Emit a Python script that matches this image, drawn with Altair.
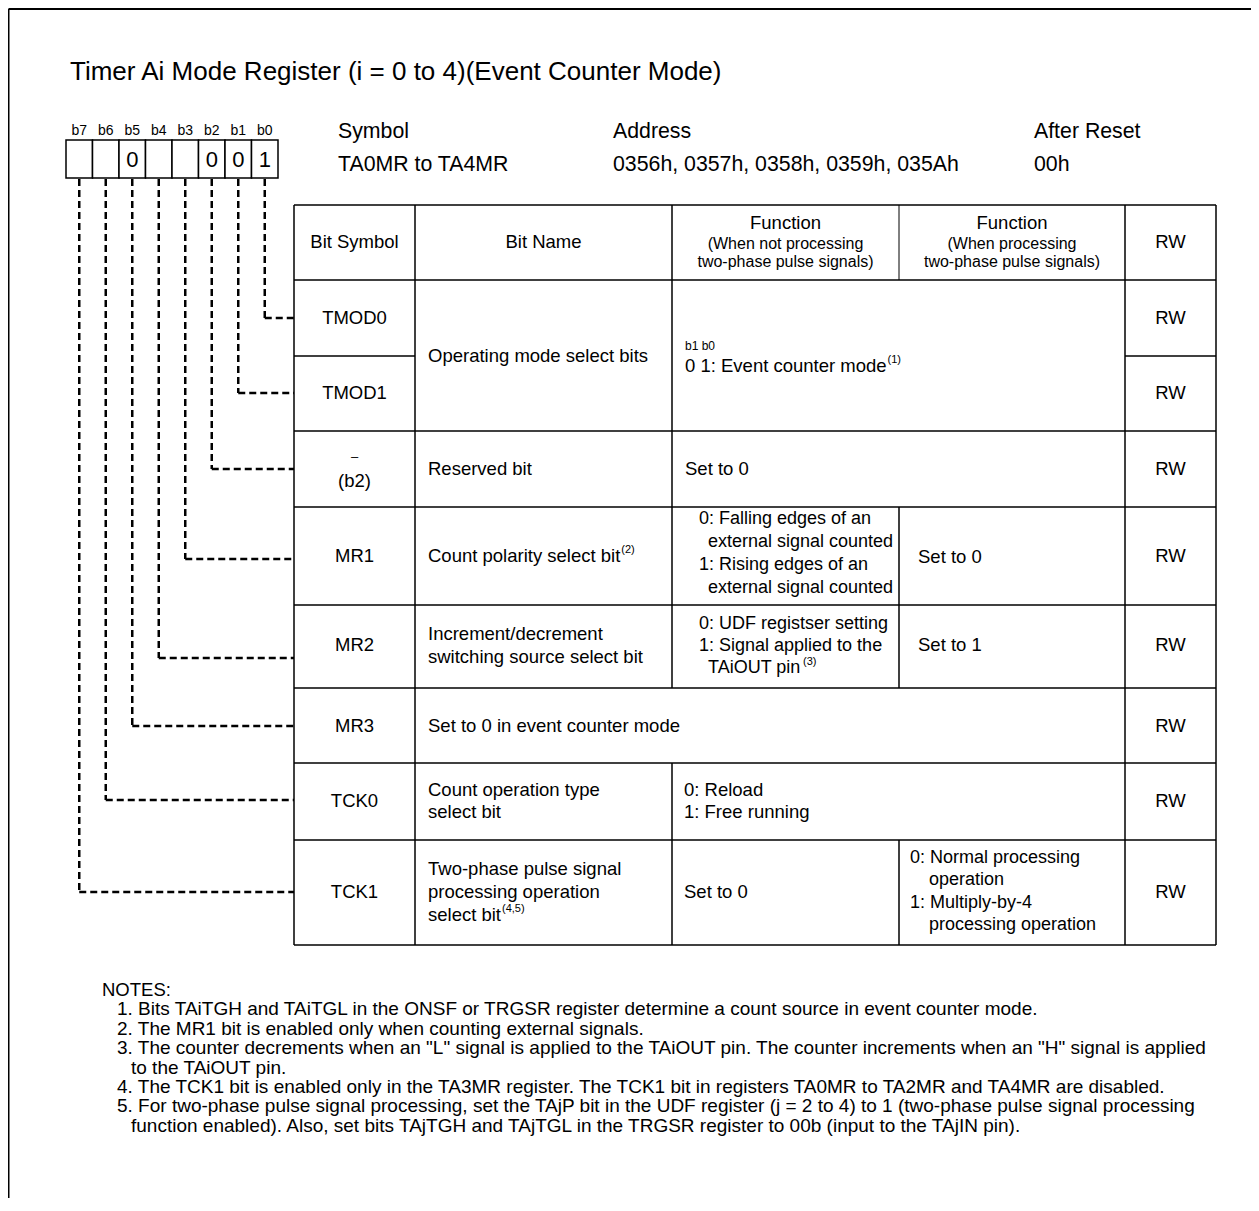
import altair as alt
import pandas as pd

# ---------------- content ----------------
TITLE = "Timer Ai Mode Register (i = 0 to 4)(Event Counter Mode)"
BIT_LABELS = ["b7", "b6", "b5", "b4", "b3", "b2", "b1", "b0"]
BIT_VALUES = ["", "", "0", "", "", "0", "0", "1"]
INFO_HEADS = ["Symbol", "Address", "After Reset"]
INFO_VALUES = ["TA0MR to TA4MR", "0356h, 0357h, 0358h, 0359h, 035Ah", "00h"]
COL_HEADS = ["Bit Symbol", "Bit Name", "Function", "Function", "RW"]
FUNC_SUBHEADS = [["(When not processing", "two-phase pulse signals)"],
                 ["(When processing", "two-phase pulse signals)"]]
BIT_SYMBOLS = ["TMOD0", "TMOD1", "(b2)", "MR1", "MR2", "MR3", "TCK0", "TCK1"]
RW = ["RW"] * 8
BIT_NAMES = {
    "op": ["Operating mode select bits"],
    "b2": ["Reserved bit"],
    "MR1": ["Count polarity select bit"],
    "MR2": ["Increment/decrement", "switching source select bit"],
    "MR3": ["Set to 0 in event counter mode"],
    "TCK0": ["Count operation type", "select bit"],
    "TCK1": ["Two-phase pulse signal", "processing operation", "select bit"],
}
FUNC_TMOD = ["b1 b0", "0 1: Event counter mode"]
FUNC_B2 = ["Set to 0"]
FUNC_MR1 = [["0: Falling edges of an", "external signal counted",
             "1: Rising edges of an", "external signal counted"], ["Set to 0"]]
FUNC_MR2 = [["0: UDF registser setting", "1: Signal applied to the", "TAiOUT pin"], ["Set to 1"]]
FUNC_TCK0 = ["0: Reload", "1: Free running"]
FUNC_TCK1 = [["Set to 0"], ["0: Normal processing", "operation",
                            "1: Multiply-by-4", "processing operation"]]
SUPS = {"op": "(1)", "MR1": "(2)", "MR2": "(3)", "TCK1": "(4,5)"}
NOTES = [
    ("h", "NOTES:"),
    ("n", "1. Bits TAiTGH and TAiTGL in the ONSF or TRGSR register determine a count source in event counter mode."),
    ("n", "2. The MR1 bit is enabled only when counting external signals."),
    ("n", "3. The counter decrements when an \"L\" signal is applied to the TAiOUT pin. The counter increments when an \"H\" signal is applied"),
    ("c", "to the TAiOUT pin."),
    ("n", "4. The TCK1 bit is enabled only in the TA3MR register. The TCK1 bit in registers TA0MR to TA2MR and TA4MR are disabled."),
    ("n", "5. For two-phase pulse signal processing, set the TAjP bit in the UDF register (j = 2 to 4) to 1 (two-phase pulse signal processing"),
    ("c", "function enabled). Also, set bits TAjTGH and TAjTGL in the TRGSR register to 00b (input to the TAjIN pin)."),
]

# ---------------- layout (page pixels) ----------------
W, H = 1243, 1190
COL_X = [294, 415, 672, 899, 1125, 1216]
ROW_Y = [205, 280, 356, 431, 507, 605, 688, 763, 840, 945]
LEADER_Y = [318, 393, 469, 559, 658, 726, 800, 892]   # b0 .. b7
REG_X0, REG_CELL, REG_Y0, REG_Y1 = 66, 26.5, 140, 178
F_TAB, F_FN, F_SMALL, F_HEAD, F_TITLE, F_NOTE, F_SUP = 18.5, 18, 16, 21.3, 26, 19, 11

# Helvetica/Arial advance widths (per 1000 em) for superscript placement
_WD = {' ': 278, '(': 333, ')': 333, '/': 278, '-': 333, ':': 278, '.': 278, ',': 278,
       'A': 667, 'B': 667, 'C': 722, 'D': 722, 'E': 667, 'F': 611, 'G': 778, 'H': 722,
       'I': 278, 'M': 833, 'O': 778, 'P': 667, 'R': 722, 'S': 667, 'T': 611, 'U': 722,
       'c': 500, 'f': 278, 'i': 222, 'j': 222, 'k': 500, 'l': 222, 'm': 833, 'r': 333,
       's': 500, 't': 278, 'v': 500, 'w': 722, 'x': 500, 'y': 500, 'z': 500}


def text_width(s, size):
    return sum(_WD.get(ch, 556) for ch in s) * size / 1000.0


cx = [(COL_X[i] + COL_X[i + 1]) / 2 for i in range(5)]
centers = []   # centered texts
lefts = []     # left aligned texts


def C(t, x, y, s):
    centers.append({"x": x, "y": y, "t": t, "s": s})


def L(t, x, y, s):
    lefts.append({"x": x, "y": y, "t": t, "s": s})


def sup(base_text, x, y, key, size):
    L(SUPS[key], x + text_width(base_text, size) + 1, y - 6, F_SUP)


# register picture
for k in range(8):
    xc = REG_X0 + REG_CELL * (k + 0.5)
    C(BIT_LABELS[k], xc, 131, 14)
    if BIT_VALUES[k]:
        C(BIT_VALUES[k], xc, 159.5, 22)

# title + info
L(TITLE, 70, 72, F_TITLE)
for t, x in zip(INFO_HEADS, [338, 613, 1034]):
    L(t, x, 132, F_HEAD)
for t, x in zip(INFO_VALUES, [338, 613, 1034]):
    L(t, x, 165, F_HEAD)

# header row
C(COL_HEADS[0], cx[0], 242, F_TAB)
C(COL_HEADS[1], cx[1], 242, F_TAB)
for j in range(2):
    C(COL_HEADS[2 + j], cx[2 + j], 223, F_TAB)
    C(FUNC_SUBHEADS[j][0], cx[2 + j], 244, F_SMALL)
    C(FUNC_SUBHEADS[j][1], cx[2 + j], 262, F_SMALL)
C(COL_HEADS[4], cx[4], 242, F_TAB)

# bit symbols and RW
sym_y = [318, 393, 481, 556, 645, 726, 801, 892]
rw_y = [318, 393, 469, 556, 645, 726, 801, 892]
for s, y in zip(BIT_SYMBOLS, sym_y):
    C(s, cx[0], y, F_TAB)
C("\u2013", cx[0], 457, 13)
for r, y in zip(RW, rw_y):
    C(r, cx[4], y, F_TAB)

# bit names
NX = 428
L(BIT_NAMES["op"][0], NX, 356, F_TAB)
L(BIT_NAMES["b2"][0], NX, 469, F_TAB)
L(BIT_NAMES["MR1"][0], NX, 556, F_TAB)
sup(BIT_NAMES["MR1"][0], NX, 556, "MR1", F_TAB)
for t, y in zip(BIT_NAMES["MR2"], [634, 657]):
    L(t, NX, y, F_TAB)
L(BIT_NAMES["MR3"][0], NX, 726, F_TAB)
for t, y in zip(BIT_NAMES["TCK0"], [790, 812]):
    L(t, NX, y, F_TAB)
for t, y in zip(BIT_NAMES["TCK1"], [869, 892, 915]):
    L(t, NX, y, F_TAB)
sup(BIT_NAMES["TCK1"][2], NX, 915, "TCK1", F_TAB)

# functions
L(FUNC_TMOD[0], 685, 346, 12)
L(FUNC_TMOD[1], 685, 366, F_TAB)
sup(FUNC_TMOD[1], 685, 366, "op", F_TAB)
L(FUNC_B2[0], 685, 469, F_TAB)
for t, x, y in zip(FUNC_MR1[0], [699, 708, 699, 708], [519, 542, 565, 588]):
    L(t, x, y, F_FN)
L(FUNC_MR1[1][0], 918, 557, F_TAB)
for t, x, y in zip(FUNC_MR2[0], [699, 699, 708], [624, 646, 668]):
    L(t, x, y, F_FN)
sup(FUNC_MR2[0][2], 708, 668, "MR2", F_FN)
L(FUNC_MR2[1][0], 918, 645, F_TAB)
for t, y in zip(FUNC_TCK0, [790, 812]):
    L(t, 684, y, F_TAB)
L(FUNC_TCK1[0][0], 684, 892, F_TAB)
for t, x, y in zip(FUNC_TCK1[1], [910, 929, 910, 929], [858, 880, 903, 925]):
    L(t, x, y, F_FN)

# notes
ny = 990
for kind, t in NOTES:
    x = {"h": 102, "n": 117, "c": 131}[kind]
    L(t, x, ny, F_NOTE if kind != "h" else F_NOTE - 0.5)
    ny += 19.4

# ---------------- lines ----------------
solid = []


def seg(x, y, x2, y2, w=1.5):
    solid.append({"x": x, "y": y, "x2": x2, "y2": y2, "w": w})


# page frame
seg(8.5, 9, 1251, 9, 2)
seg(8.5, 9, 8.5, 8 + H, 2)
# table horizontals
for y in ROW_Y:
    if y == 356:
        seg(COL_X[0], y, COL_X[1], y)
        seg(COL_X[4], y, COL_X[5], y)
    else:
        seg(COL_X[0], y, COL_X[5], y)
# table verticals
for x in [COL_X[0], COL_X[1], COL_X[4], COL_X[5]]:
    seg(x, ROW_Y[0], x, ROW_Y[-1])
seg(COL_X[2], ROW_Y[0], COL_X[2], ROW_Y[6])
seg(COL_X[2], ROW_Y[7], COL_X[2], ROW_Y[-1])
seg(COL_X[3], ROW_Y[0], COL_X[3], ROW_Y[1], 1)
seg(COL_X[3], ROW_Y[4], COL_X[3], ROW_Y[6])
seg(COL_X[3], ROW_Y[8], COL_X[3], ROW_Y[9])

# register boxes
cells = [{"x": REG_X0 + REG_CELL * k, "x2": REG_X0 + REG_CELL * (k + 1),
          "y": REG_Y0, "y2": REG_Y1} for k in range(8)]

# dashed leaders
dashed = []
for k in range(8):
    n = 7 - k
    xc = REG_X0 + REG_CELL * (k + 0.5)
    yl = LEADER_Y[n]
    dashed.append({"x": xc, "y": REG_Y1 + 1, "x2": xc, "y2": yl})
    dashed.append({"x": xc, "y": yl, "x2": COL_X[0], "y2": yl})

# ---------------- chart ----------------
xs = alt.Scale(domain=[8, 8 + W], nice=False, zero=False)
ys = alt.Scale(domain=[8, 8 + H], nice=False, zero=False, reverse=True)
X = alt.X("x:Q", scale=xs, axis=None)
Y = alt.Y("y:Q", scale=ys, axis=None)

rules = alt.Chart(pd.DataFrame(solid)).mark_rule(color="black").encode(
    x=X, y=Y, x2="x2:Q", y2="y2:Q",
    strokeWidth=alt.StrokeWidth("w:Q", scale=None, legend=None))

dash = alt.Chart(pd.DataFrame(dashed)).mark_rule(
    color="black", strokeWidth=2.5, strokeDash=[7, 4]).encode(
    x=X, y=Y, x2="x2:Q", y2="y2:Q")

boxes = alt.Chart(pd.DataFrame(cells)).mark_rect(
    fill="white", stroke="black", strokeWidth=1.5).encode(
    x=X, y=Y, x2="x2:Q", y2="y2:Q")

FONT = "Liberation Sans"
ctext = alt.Chart(pd.DataFrame(centers)).mark_text(
    align="center", baseline="middle", font=FONT, color="black").encode(
    x=X, y=Y, text="t:N", size=alt.Size("s:Q", scale=None, legend=None))
ltext = alt.Chart(pd.DataFrame(lefts)).mark_text(
    align="left", baseline="middle", font=FONT, color="black").encode(
    x=X, y=Y, text="t:N", size=alt.Size("s:Q", scale=None, legend=None))

chart = alt.layer(dash, boxes, rules, ctext, ltext).properties(
    width=W, height=H, padding=0, autosize=alt.AutoSizeParams(type="none"),
    background="white"
).configure_view(stroke=None)

chart.save("out.html", embed_options={"renderer": "svg", "actions": False})
